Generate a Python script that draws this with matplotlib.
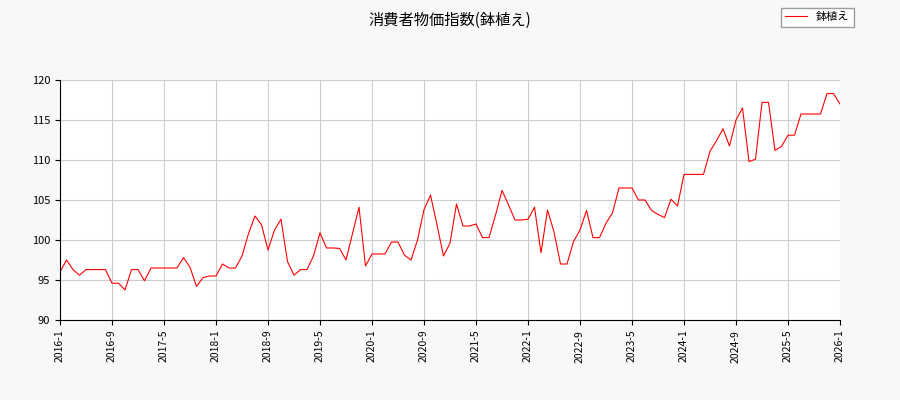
import matplotlib
matplotlib.use("Agg")
import matplotlib.pyplot as plt

plt.rcParams['font.family'] = ['Noto Sans CJK JP', 'DejaVu Sans']

values = [96.0, 97.5, 96.3, 95.6, 96.3, 96.3, 96.3, 96.3, 94.6, 94.6,
          93.75, 96.3, 96.3, 94.9, 96.5, 96.5, 96.5, 96.5, 96.5, 97.8,
          96.6, 94.2, 95.3, 95.5, 95.5, 97.0, 96.5, 96.5, 98.0, 100.8,
          103.0, 101.9, 98.75, 101.25, 102.6, 97.3, 95.6, 96.3, 96.3, 98.0,
          100.9, 99.0, 99.0, 98.95, 97.5, 100.8, 104.1, 96.75, 98.25, 98.25,
          98.25, 99.75, 99.75, 98.1, 97.5, 100.0, 103.8, 105.6, 101.9, 98.0,
          99.6, 104.5, 101.75, 101.75, 102.0, 100.3, 100.3, 103.1, 106.2, 104.4,
          102.5, 102.5, 102.6, 104.1, 98.4, 103.75, 101.0, 97.0, 97.0, 99.8,
          101.25, 103.7, 100.3, 100.3, 102.1, 103.4, 106.5, 106.5, 106.5, 105.0,
          105.0, 103.7, 103.2, 102.8, 105.1, 104.25, 108.2, 108.2, 108.2, 108.2,
          111.1, 112.4, 113.9, 111.75, 115.0, 116.5, 109.8, 110.1, 117.2, 117.2,
          111.2, 111.7, 113.1, 113.1, 115.75, 115.75, 115.75, 115.75, 118.3, 118.3,
          117.0]
months = list(range(len(values)))
tick_pos = list(range(0, 121, 8))
tick_labels = [f"{2016 + (p // 12)}-{p % 12 + 1}" for p in tick_pos]
y_ticks = [90, 95, 100, 105, 110, 115, 120]

fig = plt.figure(figsize=(9, 4), dpi=100, facecolor='#f8f8f8')
ax = fig.add_axes([60/900, 80/400, 780/900, 240/400])
ax.set_facecolor('white')
ax.plot(months, values, color='red', linewidth=0.8, label='鉢植え')
ax.set_xlim(0, 120)
ax.set_ylim(90, 120)
ax.set_xticks(tick_pos)
ax.set_xticklabels(tick_labels, rotation=90, fontsize=7.5)
ax.set_yticks(y_ticks)
ax.tick_params(axis='y', labelsize=8)
ax.grid(True, color='#cccccc', linewidth=0.8)
ax.set_axisbelow(True)
for s in ['top', 'right']:
    ax.spines[s].set_visible(False)
fig.suptitle('消費者物価指数(鉢植え)', fontsize=11, y=0.97)
fig.legend(loc='upper right', bbox_to_anchor=(0.955, 0.995), fontsize=8,
           fancybox=False, edgecolor='#888888')
fig.savefig('out.png', facecolor=fig.get_facecolor())
